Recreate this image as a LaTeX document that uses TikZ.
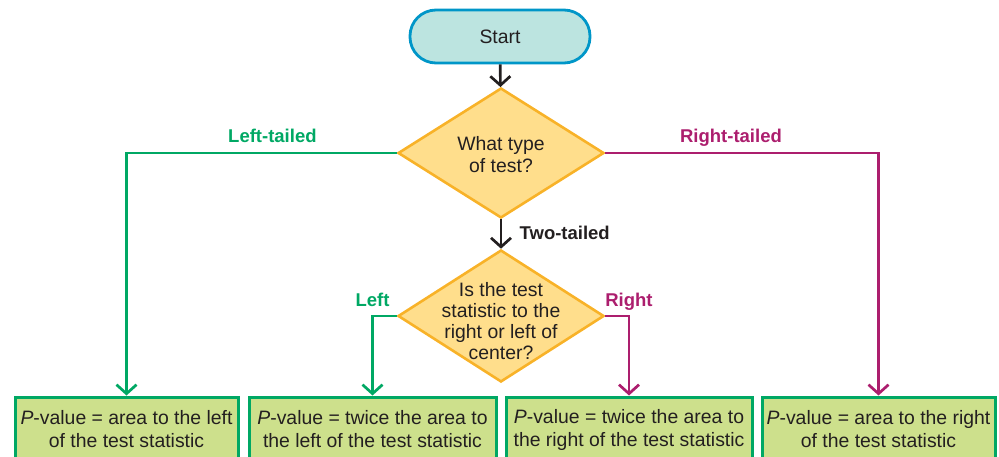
\documentclass[tikz,border=0pt]{standalone}
\usepackage{fontspec}
\setmainfont{Liberation Sans}
\definecolor{startfill}{RGB}{188,228,224}
\definecolor{startdraw}{RGB}{0,150,200}
\definecolor{decfill}{RGB}{255,222,140}
\definecolor{decdraw}{RGB}{248,178,40}
\definecolor{resfill}{RGB}{205,224,140}
\definecolor{lefttail}{RGB}{0,168,100}
\definecolor{righttail}{RGB}{172,30,110}
\definecolor{ink}{RGB}{35,31,32}
\usetikzlibrary{
  positioning,      % labels next to connectors
  shapes.geometric, % diamond decisions
  arrows.meta       % open arrow heads
}
\tikzset{
  x=1pt, y=-1pt,
  every node/.style = {
    text=ink,
    align=center,
    font=\fontsize{19.4}{22}\selectfont
  },
  terminal/.style = {rectangle, rounded corners=26pt,
    minimum width=180pt, minimum height=53pt,
    fill=startfill, draw=startdraw, line width=2.8pt},
  decision/.style = {diamond, inner sep=0pt,
    minimum width=206pt, minimum height=130pt,
    fill=decfill, draw=decdraw, line width=2.6pt},
  result/.style = {rectangle, inner sep=0pt, minimum height=65pt,
    fill=resfill, draw=lefttail, line width=3pt,
    font=\fontsize{19.4}{23}\selectfont},
  branch/.style = {font=\bfseries\fontsize{18.5}{20}\selectfont,
    text height=13.5pt, text depth=4pt},
  flow/.style = {line width=2.7pt, -{Straight Barb[length=9pt,width=20pt]}}
}

\begin{document}
\begin{tikzpicture}
  \clip (0,0) rectangle (999,457);

  %% nodes
  \node[terminal] (start) at (500,36.5) {Start};

  \node[decision, label={[name=typetext, yshift=-1.5pt]center:What type\\of test?}]
    (type) at (501,153) {};

  \node[decision, minimum height=132pt,
    label={[name=sidetext, yshift=-5pt, font=\fontsize{19.4}{21}\selectfont]center:Is the test\\statistic to the\\right or left of\\center?}]
    (side) at (501,316) {};

  \node[result, minimum width=223pt] (pleft)   at (126.5,429.5)
    {\textit{P}-value = area to the left\\of the test statistic};
  \node[result, minimum width=247pt] (ptwoleft) at (372.5,429.5)
    {\textit{P}-value = twice the area to\\the left of the test statistic};
  \node[result, minimum width=246pt] (ptworight) at (629,429.5)
    {\textit{P}-value = twice the area to\\the right of the test statistic};
  \node[result, minimum width=233pt] (pright)  at (878.5,429.5)
    {\textit{P}-value = area to the right\\of the test statistic};

  %% arrows
  \draw[flow, ink] (start) to (type);
  \draw[flow, ink] (type) to
    node[branch, anchor=west, xshift=14pt, yshift=-1pt] (twolabel) {Two-tailed} (side);

  \draw[flow, lefttail] (type.west) -|
    node[branch, above, pos=0.23, text=lefttail, yshift=2pt] (ltlabel) {Left-tailed} (pleft.north);
  \draw[flow, righttail] (type.east) -|
    node[branch, above, pos=0.23, text=righttail, yshift=2pt] (rtlabel) {Right-tailed} (pright.north);

  \draw[flow, lefttail] (side.west) -|
    node[branch, above, pos=0.5, text=lefttail, yshift=1pt] (llabel) {Left} (ptwoleft.north);
  \draw[flow, righttail] (side.east) -|
    node[branch, above, pos=0.5, text=righttail, yshift=1pt] (rlabel) {Right} (ptworight.north);

\end{tikzpicture}
\end{document}
